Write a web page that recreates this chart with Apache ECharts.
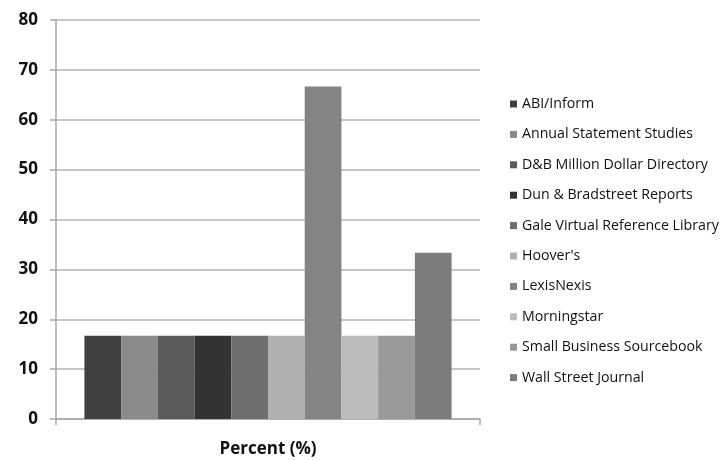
<!DOCTYPE html>
<html>
<head>
<meta charset="utf-8">
<script src="https://cdn.jsdelivr.net/npm/echarts@6/dist/echarts.min.js"></script>
<style>html,body{margin:0;padding:0;background:#fff;}#c{width:728px;height:460px;}</style>
</head>
<body>
<div id="c"></div>
<script>
var categories = [''];
var seriesNames = ['ABI/Inform','Annual Statement Studies','D&B Million Dollar Directory','Dun & Bradstreet Reports','Gale Virtual Reference Library',"Hoover's",'LexisNexis','Morningstar','Small Business Sourcebook','Wall Street Journal'];
var seriesValues = [16.67,16.67,16.67,16.67,16.67,16.67,66.67,16.67,16.67,33.33];
var seriesColors = ['#404040','#8a8a8a','#5a5a5a','#333333','#6e6e6e','#b0b0b0','#848484','#bcbcbc','#999999','#7c7c7c'];
var yTicks = [0,10,20,30,40,50,60,70,80];

var chart = echarts.init(document.getElementById('c'));
var series = seriesNames.map(function(n,i){
  return {
    name: n, type: 'bar', data: [seriesValues[i]],
    itemStyle: {color: seriesColors[i]},
    barGap: '0%', barCategoryGap: '13.4%'
  };
});
chart.setOption({
  animation: false,
  backgroundColor: '#fff',
  color: seriesColors,
  grid: {left: 56, right: 248, top: 20, bottom: 41, containLabel: false, outerBoundsMode: 'none'},
  legend: {
    orient: 'vertical', left: 510, top: 97, padding: 0,
    itemWidth: 7, itemHeight: 7, itemGap: 16.4,
    icon: 'rect',
    textStyle: {fontFamily: 'Open Sans', fontSize: 14.2, color: '#111', lineHeight: 14},
    data: seriesNames
  },
  xAxis: {
    type: 'category', data: categories,
    name: 'Percent (%)', nameLocation: 'middle', nameGap: 22,
    nameTextStyle: {fontFamily: 'Open Sans', fontWeight: 'bold', fontSize: 17, color: '#111'},
    axisLine: {lineStyle: {color: '#a8a8a8', width: 1.5}},
    axisTick: {show: true, length: 6, lineStyle: {color: '#a8a8a8', width: 1.5}},
    axisLabel: {show: false}
  },
  yAxis: {
    type: 'value', min: 0, max: 80, interval: 10,
    axisLine: {show: true, lineStyle: {color: '#a8a8a8', width: 1.5}},
    axisTick: {show: true, length: 6, lineStyle: {color: '#a8a8a8', width: 1.5}},
    axisLabel: {fontFamily: 'Open Sans', fontWeight: 'bold', fontSize: 17, color: '#111', margin: 18,
      formatter: function(v){ return yTicks.indexOf(v) >= 0 ? String(v) : ''; }},
    splitLine: {lineStyle: {color: '#b4b4b4', width: 1.5}}
  },
  series: series
});
</script>
</body>
</html>
